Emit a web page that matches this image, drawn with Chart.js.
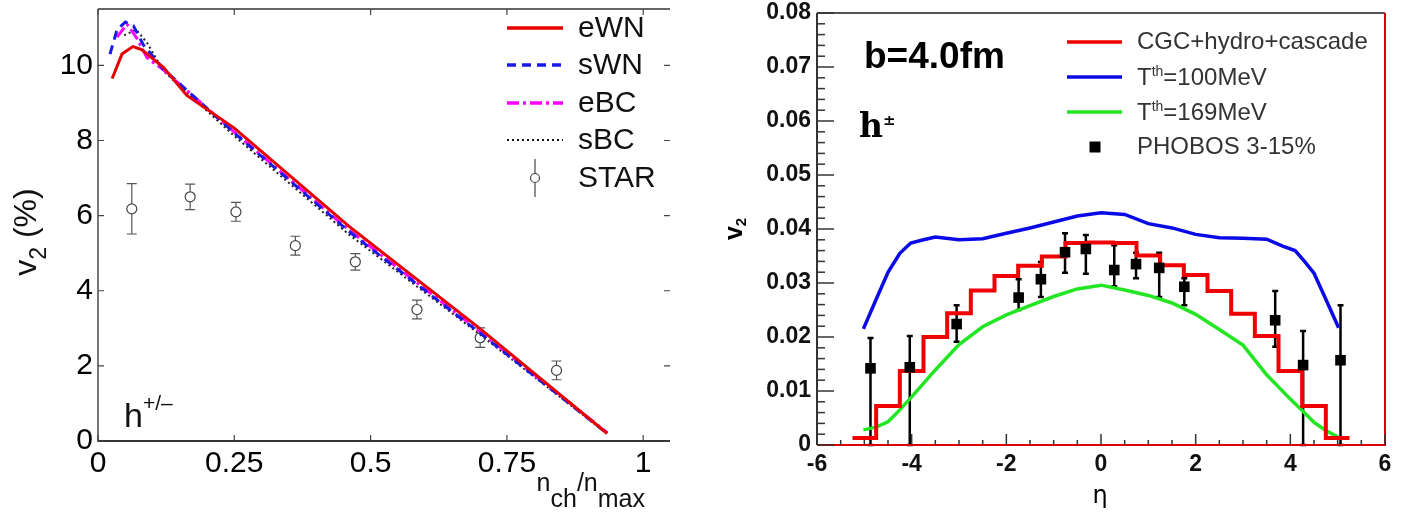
<!DOCTYPE html>
<html>
<head>
<meta charset="utf-8">
<title>v2 comparison</title>
<script src="https://cdn.jsdelivr.net/npm/chart.js@4.4.1/dist/chart.umd.min.js"></script>
<style>
  body { margin: 0; background: #fff; width: 1405px; height: 516px; overflow: hidden; }
  canvas { position: absolute; top: 0; }
  #leftChart { left: 0; }
  #rightChart { left: 700px; }
</style>
</head>
<body>
<canvas id="leftChart" width="700" height="516"></canvas>
<canvas id="rightChart" width="705" height="516"></canvas>
<script>
// ---- left panel: v2 (%) vs n_ch/n_max ----
const leftXTicks = [0, 0.25, 0.5, 0.75, 1];
const leftYTicks = [0, 2, 4, 6, 8, 10];

const ewnX = [0.026, 0.044, 0.064, 0.08, 0.12, 0.163, 0.25, 0.46, 0.70, 0.934];
const ewnY = [9.65, 10.3, 10.5, 10.42, 9.95, 9.2, 8.33, 5.72, 3.0, 0.2];
const swnX = [0.022, 0.035, 0.05, 0.065, 0.083, 0.12, 0.25, 0.46, 0.70, 0.934];
const swnY = [10.3, 10.95, 11.15, 11.05, 10.55, 9.9, 8.2, 5.58, 2.88, 0.2];
const ebcX = [0.035, 0.053, 0.07, 0.09, 0.12, 0.25, 0.46, 0.70, 0.934];
const ebcY = [10.75, 11.1, 10.75, 10.2, 9.88, 8.22, 5.62, 2.92, 0.22];
const sbcX = [0.048, 0.07, 0.09, 0.12, 0.25, 0.46, 0.70, 0.93];
const sbcY = [10.8, 10.95, 10.6, 9.85, 8.12, 5.5, 2.84, 0.24];

const starX = [0.062, 0.169, 0.253, 0.362, 0.472, 0.585, 0.701, 0.841];
const starY = [6.18, 6.5, 6.1, 5.2, 4.77, 3.5, 2.75, 1.88];
const starErr = [0.67, 0.34, 0.25, 0.25, 0.22, 0.25, 0.26, 0.25];

// ---- right panel: v2 vs eta ----
const rightXTicks = [-6, -4, -2, 0, 2, 4, 6];
const rightYTicks = [0, 0.01, 0.02, 0.03, 0.04, 0.05, 0.06, 0.07, 0.08];

// histogram bins of width 0.5 (centres)
const etaBins = [-5, -4.5, -4, -3.5, -3, -2.5, -2, -1.5, -1, -0.5, 0, 0.5, 1, 1.5, 2, 2.5, 3, 3.5, 4, 4.5, 5];
const cgcV2 = [0.0013, 0.0072, 0.0137, 0.0200, 0.0244, 0.0286, 0.0313, 0.0332, 0.0349, 0.0374, 0.0375,
               0.0374, 0.0351, 0.0333, 0.0315, 0.0285, 0.0243, 0.0202, 0.0137, 0.0072, 0.0013];

const t100Eta = [-5.02, -4.75, -4.5, -4.25, -4.02, -3.75, -3.5, -3.0, -2.5, -2.0, -1.5, -1.0, -0.5, 0,
                 0.5, 1.0, 1.5, 2.0, 2.5, 3.0, 3.5, 3.85, 4.1, 4.3, 4.5, 4.75, 5.02];
const t100V2 = [0.0215, 0.027, 0.032, 0.0355, 0.0374, 0.038, 0.0385, 0.038, 0.0382, 0.0392, 0.0402, 0.0413, 0.0424, 0.043,
                0.0427, 0.041, 0.0402, 0.039, 0.0384, 0.0383, 0.0381, 0.0368, 0.036, 0.034, 0.0318, 0.027, 0.0217];

const t169Eta = [-5.02, -4.75, -4.5, -4.25, -4.0, -3.5, -3.0, -2.5, -2.0, -1.5, -1.0, -0.5, 0,
                 0.5, 1.0, 1.5, 2.0, 2.5, 3.0, 3.5, 4.0, 4.25, 4.5, 4.75, 5.0];
const t169V2 = [0.0028, 0.0033, 0.0043, 0.0065, 0.0089, 0.0139, 0.0186, 0.0219, 0.0241, 0.0258, 0.0275, 0.0289, 0.0296,
                0.0287, 0.0277, 0.0263, 0.0242, 0.0214, 0.0185, 0.013, 0.0085, 0.0064, 0.0042, 0.0027, 0.0015];

const phobosEta = [-4.87, -4.04, -3.05, -1.74, -1.27, -0.76, -0.32, 0.28, 0.74, 1.23, 1.76, 3.68, 4.27, 5.06];
const phobosV2 = [0.0142, 0.0144, 0.0224, 0.0273, 0.0307, 0.0357, 0.0363, 0.0324, 0.0335, 0.0328, 0.0293, 0.0231, 0.0148, 0.0157];
const phobosUp = [0.0056, 0.0058, 0.0035, 0.0034, 0.0032, 0.0035, 0.0026, 0.0046, 0.0021, 0.0028, 0.0016, 0.0054, 0.0063, 0.0102];
const phobosDown = [0.0142, 0.0144, 0.0033, 0.0023, 0.0033, 0.0038, 0.0046, 0.0030, 0.0026, 0.0054, 0.0034, 0.0049, 0.0148, 0.0157];

const SANS = '"Liberation Sans", Arial, sans-serif';

function pts(xs, ys) {
  return xs.map((x, i) => ({ x: x, y: ys[i] }));
}

// draw a row of text pieces (for sub/superscripts)
function richText(ctx, parts, x, y, align) {
  let total = 0;
  parts.forEach(p => { ctx.font = p.font; total += ctx.measureText(p.text).width; });
  let cx = align === 'right' ? x - total : align === 'center' ? x - total / 2 : x;
  ctx.textAlign = 'left';
  ctx.textBaseline = 'alphabetic';
  parts.forEach(p => {
    ctx.font = p.font;
    ctx.fillText(p.text, cx, y + (p.dy || 0));
    cx += ctx.measureText(p.text).width;
  });
}

// keep tick labels from pushing the plot area around
function noPad(s) {
  s.paddingTop = 0; s.paddingBottom = 0; s.paddingLeft = 0; s.paddingRight = 0;
}

const errorBars = {
  id: 'errorBars',
  beforeDatasetsDraw(chart) {
    const { ctx, scales: { x, y } } = chart;
    ctx.save();
    chart.data.datasets.forEach(ds => {
      if (!ds.errUp) return;
      ctx.strokeStyle = ds.errColor;
      ctx.lineWidth = ds.errWidth;
      ds.data.forEach((p, i) => {
        const px = x.getPixelForValue(p.x);
        const py = y.getPixelForValue(p.y);
        const top = y.getPixelForValue(p.y + ds.errUp[i]);
        const bot = y.getPixelForValue(p.y - ds.errDown[i]);
        const gap = ds.errGap || 0;
        ctx.beginPath();
        ctx.moveTo(px, top); ctx.lineTo(px, py - gap);
        ctx.moveTo(px, py + gap); ctx.lineTo(px, bot);
        ctx.moveTo(px - ds.capHalf, top); ctx.lineTo(px + ds.capHalf, top);
        ctx.moveTo(px - ds.capHalf, bot); ctx.lineTo(px + ds.capHalf, bot);
        ctx.stroke();
      });
    });
    ctx.restore();
  }
};

const leftDecor = {
  id: 'leftDecor',
  afterDraw(chart) {
    const { ctx, chartArea: a, scales: { x, y } } = chart;
    ctx.save();
    // frame
    ctx.lineWidth = 2;
    ctx.strokeStyle = '#777';
    ctx.beginPath(); ctx.moveTo(a.left, a.top); ctx.lineTo(a.left, a.bottom + 1); ctx.stroke();
    ctx.strokeStyle = '#333';
    ctx.beginPath(); ctx.moveTo(a.left, a.bottom); ctx.lineTo(a.right + 5, a.bottom); ctx.stroke();
    ctx.lineWidth = 1.5;
    ctx.beginPath(); ctx.moveTo(a.left, a.top); ctx.lineTo(a.right + 5, a.top); ctx.stroke();
    // inner ticks
    ctx.lineWidth = 1.2;
    ctx.strokeStyle = '#444';
    leftXTicks.forEach(v => {
      const px = x.getPixelForValue(v);
      ctx.beginPath();
      ctx.moveTo(px, a.bottom); ctx.lineTo(px, a.bottom - 6);
      ctx.moveTo(px, a.top); ctx.lineTo(px, a.top + 6);
      ctx.stroke();
    });
    leftYTicks.forEach(v => {
      const py = y.getPixelForValue(v);
      ctx.beginPath();
      ctx.moveTo(a.left, py); ctx.lineTo(a.left + 6, py);
      ctx.moveTo(a.right + 5, py); ctx.lineTo(a.right - 1, py);
      ctx.stroke();
    });

    // legend
    const lx0 = 507, lx1 = 563, tx = 578;
    const rows = [28, 65, 103, 140, 178];
    const styles = [
      { c: '#e60000', w: 3.5, d: [] },
      { c: '#1a1ae6', w: 3.5, d: [9, 6] },
      { c: '#ff00ff', w: 3.5, d: [12, 4, 3, 4] },
      { c: '#111', w: 2, d: [2, 3] }
    ];
    styles.forEach((s, i) => {
      ctx.strokeStyle = s.c; ctx.lineWidth = s.w; ctx.setLineDash(s.d);
      ctx.beginPath(); ctx.moveTo(lx0, rows[i]); ctx.lineTo(lx1, rows[i]); ctx.stroke();
    });
    ctx.setLineDash([]);
    ctx.strokeStyle = '#444'; ctx.lineWidth = 1.2;
    ctx.beginPath();
    ctx.moveTo(535, rows[4] - 19); ctx.lineTo(535, rows[4] - 4.5);
    ctx.moveTo(535, rows[4] + 4.5); ctx.lineTo(535, rows[4] + 19);
    ctx.stroke();
    ctx.beginPath(); ctx.arc(535, rows[4], 4.5, 0, Math.PI * 2); ctx.stroke();
    ctx.fillStyle = '#111';
    ctx.font = '30px ' + SANS;
    ctx.textAlign = 'left'; ctx.textBaseline = 'middle';
    ['eWN', 'sWN', 'eBC', 'sBC', 'STAR'].forEach((t, i) => ctx.fillText(t, tx, rows[i] + 1));

    // h+/- label
    ctx.fillStyle = '#111';
    richText(ctx, [
      { text: 'h', font: '34px ' + SANS },
      { text: '+/\u2013', font: '21px ' + SANS, dy: -17 }
    ], 124, 427, 'left');

    // axis titles
    richText(ctx, [
      { text: 'n', font: '25px ' + SANS },
      { text: 'ch', font: '25px ' + SANS, dy: 16 },
      { text: '/n', font: '25px ' + SANS },
      { text: 'max', font: '25px ' + SANS, dy: 16 }
    ], 645, 491, 'right');

    ctx.save();
    ctx.translate(36, 232);
    ctx.rotate(-Math.PI / 2);
    richText(ctx, [
      { text: 'v', font: '32px ' + SANS },
      { text: '2', font: '23px ' + SANS, dy: 10 },
      { text: ' (%)', font: '32px ' + SANS }
    ], 0, 0, 'center');
    ctx.restore();
    ctx.restore();
  }
};

const rightDecor = {
  id: 'rightDecor',
  afterDraw(chart) {
    const { ctx, chartArea: a, scales: { x, y } } = chart;
    ctx.save();
    // frame
    ctx.lineWidth = 2;
    ctx.strokeStyle = '#555';
    ctx.beginPath(); ctx.moveTo(a.left, a.top); ctx.lineTo(a.right, a.top); ctx.stroke();
    ctx.strokeStyle = '#333';
    ctx.beginPath(); ctx.moveTo(a.left, a.top); ctx.lineTo(a.left, a.bottom); ctx.stroke();
    ctx.strokeStyle = '#e00000';
    ctx.beginPath(); ctx.moveTo(a.left, a.bottom); ctx.lineTo(a.right, a.bottom); ctx.lineTo(a.right, a.top); ctx.stroke();

    // inner ticks
    ctx.strokeStyle = '#333';
    ctx.lineWidth = 1.5;
    for (let k = 0; k <= 40; k++) {
      const py = y.getPixelForValue(k * 0.002);
      const len = k % 5 === 0 ? 17 : 8;
      ctx.beginPath(); ctx.moveTo(a.left, py); ctx.lineTo(a.left + len, py); ctx.stroke();
    }
    for (let k = 0; k <= 24; k++) {
      const px = x.getPixelForValue(-6 + k * 0.5);
      const len = k % 4 === 0 ? 11 : 5;
      ctx.beginPath(); ctx.moveTo(px, a.bottom); ctx.lineTo(px, a.bottom - len); ctx.stroke();
    }

    // legend
    const lx0 = 1067 - 700, lx1 = 1122 - 700, tx = 1137 - 700;
    const rows = [42, 77, 112, 147];
    ['#f00000', '#0a0ae6', '#22e622'].forEach((c, i) => {
      ctx.strokeStyle = c; ctx.lineWidth = 3.5;
      ctx.beginPath(); ctx.moveTo(lx0, rows[i]); ctx.lineTo(lx1, rows[i]); ctx.stroke();
    });
    ctx.fillStyle = '#000';
    ctx.fillRect(1095 - 700 - 5.5, rows[3] - 5.5, 11, 11);
    ctx.fillStyle = '#333';
    ctx.font = '24px ' + SANS;
    ctx.textAlign = 'left'; ctx.textBaseline = 'middle';
    ctx.fillText('CGC+hydro+cascade', tx, rows[0]);
    richText(ctx, [
      { text: 'T', font: '24px ' + SANS },
      { text: 'th', font: '14px ' + SANS, dy: -9 },
      { text: '=100MeV', font: '24px ' + SANS }
    ], tx, rows[1] + 8, 'left');
    richText(ctx, [
      { text: 'T', font: '24px ' + SANS },
      { text: 'th', font: '14px ' + SANS, dy: -9 },
      { text: '=169MeV', font: '24px ' + SANS }
    ], tx, rows[2] + 8, 'left');
    ctx.textBaseline = 'middle';
    ctx.font = '24px ' + SANS;
    ctx.fillText('PHOBOS 3-15%', tx, rows[3]);

    // annotations
    ctx.fillStyle = '#000';
    ctx.font = 'bold 37px ' + SANS;
    ctx.textAlign = 'left'; ctx.textBaseline = 'alphabetic';
    ctx.fillText('b=4.0fm', 164, 68);
    richText(ctx, [
      { text: 'h', font: 'bold 33px "DejaVu Serif", serif' },
      { text: '\u00b1', font: 'bold 15px "DejaVu Serif", serif', dy: -12 }
    ], 159, 137, 'left');

    // axis titles
    ctx.font = '24px "DejaVu Sans", sans-serif';
    ctx.textAlign = 'center';
    ctx.fillText('\u03b7', 400, 503);
    ctx.save();
    ctx.translate(42, 229);
    ctx.rotate(-Math.PI / 2);
    richText(ctx, [
      { text: 'v', font: 'bold 25px ' + SANS },
      { text: '2', font: 'bold 15px ' + SANS, dy: 4 }
    ], 0, 0, 'center');
    ctx.restore();
    ctx.restore();
  }
};

// ---- left chart ----
new Chart(document.getElementById('leftChart'), {
  type: 'scatter',
  data: {
    datasets: [
      { label: 'eWN', data: pts(ewnX, ewnY), showLine: true, borderColor: '#e60000', borderWidth: 3, pointRadius: 0 },
      { label: 'sWN', data: pts(swnX, swnY), showLine: true, borderColor: '#1a1ae6', borderWidth: 3, borderDash: [9, 6], pointRadius: 0 },
      { label: 'eBC', data: pts(ebcX, ebcY), showLine: true, borderColor: '#ff00ff', borderWidth: 3, borderDash: [12, 4, 3, 4], pointRadius: 0 },
      { label: 'sBC', data: pts(sbcX, sbcY), showLine: true, borderColor: '#222', borderWidth: 2, borderDash: [2, 3], pointRadius: 0 },
      {
        label: 'STAR', data: pts(starX, starY),
        pointRadius: 5, pointStyle: 'circle', borderColor: '#444', backgroundColor: 'rgba(0,0,0,0)', borderWidth: 1.2,
        errUp: starErr, errDown: starErr, errColor: '#555', errWidth: 1.2, capHalf: 5, errGap: 5
      }
    ]
  },
  options: {
    responsive: false,
    animation: false,
    layout: { padding: { top: 9, right: 35, left: 0, bottom: 0 } },
    plugins: { legend: { display: false }, tooltip: { enabled: false } },
    scales: {
      x: {
        type: 'linear', min: 0, max: 1.04,
        afterBuildTicks: s => { s.ticks = leftXTicks.map(v => ({ value: v })); },
        afterFit: s => { s.height = 75; noPad(s); },
        grid: { display: false, drawTicks: false }, border: { display: false },
        ticks: { font: { family: SANS, size: 30 }, color: '#000', padding: 5, maxRotation: 0, callback: v => String(v) }
      },
      y: {
        type: 'linear', min: 0, max: 11.5,
        afterBuildTicks: s => { s.ticks = leftYTicks.map(v => ({ value: v })); },
        afterFit: s => { s.width = 98; noPad(s); },
        grid: { display: false, drawTicks: false }, border: { display: false },
        ticks: { font: { family: SANS, size: 30 }, color: '#000', padding: 5, callback: v => String(v) }
      }
    }
  },
  plugins: [errorBars, leftDecor]
});

// ---- right chart ----
const binEdges = etaBins.map(c => c - 0.25).concat([etaBins[etaBins.length - 1] + 0.25]);
const cgcSteps = binEdges.map((e, i) => ({ x: e, y: cgcV2[Math.min(i, cgcV2.length - 1)] }));

new Chart(document.getElementById('rightChart'), {
  type: 'scatter',
  data: {
    datasets: [
      {
        label: 'PHOBOS 3-15%', data: pts(phobosEta, phobosV2),
        pointStyle: 'rect', pointRadius: 7.5, backgroundColor: '#000', borderColor: '#000', borderWidth: 0,
        errUp: phobosUp, errDown: phobosDown, errColor: '#000', errWidth: 2.5, capHalf: 3
      },
      { label: 'CGC+hydro+cascade', data: cgcSteps, showLine: true, stepped: 'before', borderColor: '#f00000', borderWidth: 4, pointRadius: 0 },
      { label: 'Tth=100MeV', data: pts(t100Eta, t100V2), showLine: true, borderColor: '#0a0ae6', borderWidth: 3.5, pointRadius: 0 },
      { label: 'Tth=169MeV', data: pts(t169Eta, t169V2), showLine: true, borderColor: '#22e622', borderWidth: 3.5, pointRadius: 0 }
    ]
  },
  options: {
    responsive: false,
    animation: false,
    layout: { padding: { top: 13, right: 20, left: 0, bottom: 0 } },
    plugins: { legend: { display: false }, tooltip: { enabled: false } },
    scales: {
      x: {
        type: 'linear', min: -6, max: 6,
        afterBuildTicks: s => { s.ticks = rightXTicks.map(v => ({ value: v })); },
        afterFit: s => { s.height = 71; noPad(s); },
        grid: { display: false, drawTicks: false }, border: { display: false },
        ticks: { font: { family: SANS, size: 23, weight: 'bold' }, color: '#111', padding: 6, maxRotation: 0, callback: v => String(v) }
      },
      y: {
        type: 'linear', min: 0, max: 0.08,
        afterBuildTicks: s => { s.ticks = rightYTicks.map(v => ({ value: v })); },
        afterFit: s => { s.width = 117; noPad(s); },
        grid: { display: false, drawTicks: false }, border: { display: false },
        ticks: { font: { family: SANS, size: 23, weight: 'bold' }, color: '#111', padding: 6, callback: v => v === 0 ? '0' : v.toFixed(2) }
      }
    }
  },
  plugins: [errorBars, rightDecor]
});
</script>
</body>
</html>
